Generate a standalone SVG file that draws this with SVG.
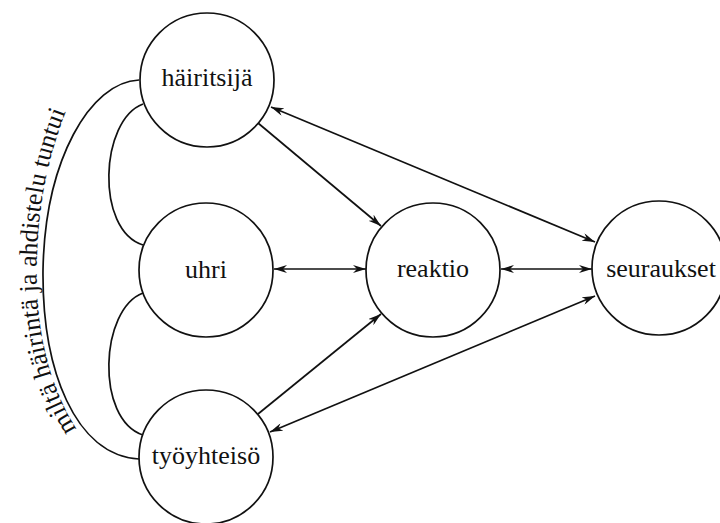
<svg xmlns="http://www.w3.org/2000/svg" width="720" height="523" viewBox="0 0 720 523">
<style>
.node circle{fill:#fff;stroke:#111;stroke-width:1.7}
.node text{font-family:'Liberation Serif','Times New Roman',serif;font-size:26px;fill:#111;text-anchor:middle}
.conn path,.conn line{fill:none;stroke:#111;stroke-width:1.7}
.lbl{font-family:'Liberation Serif','Times New Roman',serif;font-size:25.7px;fill:#111}
</style>
<defs>
<marker id="ah" viewBox="0 0 13 8" refX="13" refY="4" markerWidth="13" markerHeight="8" markerUnits="userSpaceOnUse" orient="auto-start-reverse">
<path d="M0,0 L13,4 L0,8 L4,4 z" fill="#111"/>
</marker>
<path id="tp" d="M80,434 C45,384 34,314 37,256 C39,196 50,146 74,92"/>
</defs>
<rect width="720" height="523" fill="#fff"/>
<g class="conn">
<path d="M139,80 C90,82 45,160 43,270 C42,370 75,455 139,459"/>
<path d="M143,104 C100,120 95,230 143,245"/>
<path d="M143,293 C100,309 95,419 143,435"/>
<line x1="258" y1="123" x2="381" y2="226" marker-end="url(#ah)"/>
<line x1="271" y1="107" x2="595" y2="242" marker-start="url(#ah)" marker-end="url(#ah)"/>
<line x1="274" y1="269" x2="366" y2="269" marker-start="url(#ah)" marker-end="url(#ah)"/>
<line x1="501" y1="269" x2="592" y2="269" marker-start="url(#ah)" marker-end="url(#ah)"/>
<line x1="258" y1="414" x2="381" y2="314" marker-end="url(#ah)"/>
<line x1="270" y1="432" x2="595" y2="296" marker-start="url(#ah)" marker-end="url(#ah)"/>
</g>
<text class="lbl"><textPath href="#tp" startOffset="6">miltä häirintä ja ahdistelu tuntui</textPath></text>
<g id="hairitsija" class="node"><circle cx="207" cy="80" r="67"/><text x="207" y="86">häiritsijä</text></g>
<g id="uhri" class="node"><circle cx="206" cy="270" r="67"/><text x="206" y="278">uhri</text></g>
<g id="tyoyhteiso" class="node"><circle cx="206" cy="457" r="67"/><text x="206" y="464">työyhteisö</text></g>
<g id="reaktio" class="node"><circle cx="433" cy="270" r="67"/><text x="433" y="277">reaktio</text></g>
<g id="seuraukset" class="node"><circle cx="659" cy="268" r="67"/><text x="661" y="277">seuraukset</text></g>
</svg>
